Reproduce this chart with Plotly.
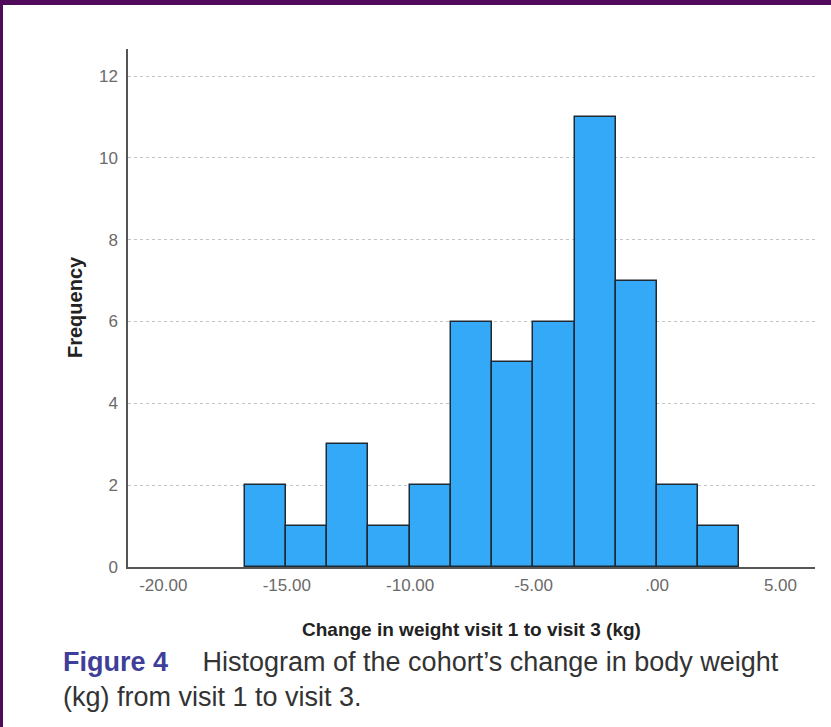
import plotly.graph_objects as go

# ---- data ----
counts = [2, 1, 3, 1, 2, 6, 5, 6, 11, 7, 2, 1]
bin_start = -16.7
bin_width = 1.67
x_tick_vals = [-20, -15, -10, -5, 0, 5]
x_tick_text = ["-20.00", "-15.00", "-10.00", "-5.00", ".00", "5.00"]
y_tick_vals = [0, 2, 4, 6, 8, 10, 12]
x_title = "Change in weight visit 1 to visit 3 (kg)"
y_title = "Frequency"
caption_label = "Figure 4"
caption_text = "Histogram of the cohort\u2019s change in body weight<br>(kg) from visit 1 to visit 3."

centers = [bin_start + bin_width * (i + 0.5) for i in range(len(counts))]

W, H = 831, 727
L, R, T, B = 128, 16, 49, 160
PW, PH = W - L - R, H - T - B


def px(xp):
    return (xp - L) / PW


def py(yp):
    return (H - B - yp) / PH


fig = go.Figure()
fig.add_trace(go.Bar(
    x=centers, y=counts, width=bin_width,
    marker=dict(color="#33a9f7", line=dict(color="#1e2a33", width=1.5)),
    hoverinfo="skip",
))

font = "Liberation Sans, Arial, sans-serif"
fig.update_layout(
    width=W, height=H,
    margin=dict(l=L, r=R, t=T, b=B),
    paper_bgcolor="white", plot_bgcolor="white",
    showlegend=False,
    bargap=0,
    xaxis=dict(
        range=[-21.43, 6.40], tickvals=x_tick_vals, ticktext=x_tick_text,
        showgrid=False, zeroline=False, showline=True, linecolor="#555555", linewidth=1.5,
        ticks="", ticklabelstandoff=2,
        tickfont=dict(family=font, size=17, color="#6a6a6a"),
    ),
    yaxis=dict(
        range=[0, 12.66], tickvals=y_tick_vals,
        showgrid=True, gridcolor="#c4c4c4", griddash="dot", gridwidth=1,
        zeroline=False, showline=True, linecolor="#555555", linewidth=1.5,
        ticks="", ticklabelstandoff=5,
        tickfont=dict(family=font, size=17, color="#6a6a6a"),
    ),
    shapes=[
        dict(type="rect", xref="paper", yref="paper", x0=px(0), x1=px(W), y0=py(0), y1=py(5),
             fillcolor="#500a5a", line=dict(width=0), layer="above"),
        dict(type="rect", xref="paper", yref="paper", x0=px(0), x1=px(3), y0=py(0), y1=py(H),
             fillcolor="#500a5a", line=dict(width=0), layer="above"),
    ],
    annotations=[
        dict(text="<b>" + x_title + "</b>", xref="paper", yref="paper", x=px(471), y=py(629),
             xanchor="center", yanchor="middle", showarrow=False,
             font=dict(family=font, size=19, color="#222222")),
        dict(text="<b>" + y_title + "</b>", xref="paper", yref="paper", x=px(75), y=py(307),
             xanchor="center", yanchor="middle", showarrow=False, textangle=-90,
             font=dict(family=font, size=20, color="#222222")),
        dict(text="<b><span style='color:#3f3f99'>" + caption_label + "</span></b>\u2003 " + caption_text,
             xref="paper", yref="paper", x=px(61), y=py(645),
             xanchor="left", yanchor="top", align="left", showarrow=False,
             font=dict(family=font, size=27, color="#333333")),
    ],
)

fig.write_html("out.html", config={"displayModeBar": False},
               post_script="document.body.style.margin='0';document.body.style.padding='0';")
